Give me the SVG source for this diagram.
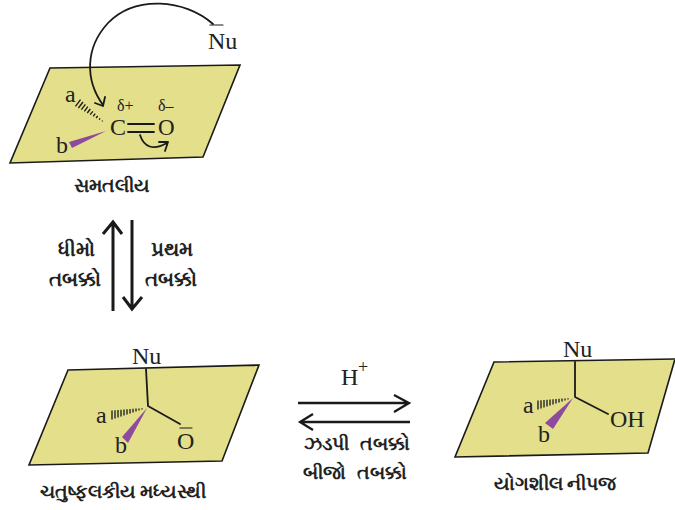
<svg xmlns="http://www.w3.org/2000/svg" width="675" height="510" viewBox="0 0 675 510">
<style>
.plane{fill:#e3df8b;stroke:#1a1a1a;stroke-width:1.6}
.t{font-family:"Liberation Serif",serif;fill:#222;font-size:24px}
.o{font-size:23px}
.s{font-size:16px}
.p{font-size:18px}
.g{font-family:"Noto Sans","Liberation Sans",sans-serif;fill:#222;font-size:19px;font-weight:700;text-anchor:middle}
.w2{font-size:20px}
.l{fill:none;stroke:#1a1a1a;stroke-width:1.8;stroke-linecap:round;stroke-linejoin:round}
.b{fill:none;stroke:#1a1a1a;stroke-width:1.3}
.a{fill:none;stroke:#1a1a1a;stroke-width:3}
.a2{fill:none;stroke:#1a1a1a;stroke-width:2.3}
.w{fill:#8e4a9c}
</style>
<defs>
<path id="hash" class="b" d="M112,410.5V419.5M115,410.3V418.5M118,410.1V417.5M121,409.8V416.4M124,409.6V415.4M127,409.3V414.5M130,409.1V413.5M133,408.8V412.4M136,408.6V411.4M139,408.4V410.4M142,408.2V409.4"/>
</defs>
<rect width="675" height="510" fill="#fff"/>
<g id="node-planar">
<polygon class="plane" points="50,68 240,65 203,157 10,163"/>
<text class="t" x="65" y="102">a</text>
<text class="t" x="56" y="153">b</text>
<text class="t" x="110" y="135">C</text>
<text class="t o" x="158" y="135">O</text>
<text class="t s" x="117" y="111">δ+</text>
<text class="t s" x="158" y="111">δ–</text>
<path class="b" d="M80.5,99.6L75.5,106.4M83,102L78.4,108M85.4,104.3L81.4,109.7M87.8,106.7L84.4,111.3M90.3,109L87.3,113M92.8,111.3L90.2,114.7M95.2,113.7L93.2,116.3M97.7,116L96.1,118M100.1,118.3L99.1,119.7M102.6,120.6L102,121.4"/>
<polygon class="w" points="69,142 72,148 106,131"/>
<path d="M128,124H154M128,132H154" class="l"/>
<text class="t" x="208" y="49">Nu</text>
<path d="M210,25H223" class="l" style="stroke-width:1.2"/>
<text class="g" x="112" y="192">સમતલીય</text>
</g>
<g id="node-step-left">
<text class="g w2" x="76" y="256">ધીમો</text>
<text class="g w2" x="75" y="286">તબક્કો</text>
</g>
<g id="node-step-right">
<text class="g w2" x="172" y="256">પ્રથમ</text>
<text class="g w2" x="171" y="286">તબક્કો</text>
</g>
<g id="node-tetrahedral">
<polygon class="plane" points="68,370 259,365 222,461 29,465"/>
<path class="l" d="M146,369L148,406L180,424"/>
<use href="#hash"/>
<polygon class="w" points="147,408 122,437 128,443"/>
<text class="t" x="132" y="364">Nu</text>
<text class="t" x="96" y="423">a</text>
<text class="t" x="115" y="453">b</text>
<text class="t" x="177" y="449">O</text>
<path d="M180,428H192" class="l" style="stroke-width:1.2"/>
<text class="g" x="123" y="498">ચતુષ્ફલકીય મધ્યસ્થી</text>
</g>
<g id="node-product">
<polygon class="plane" points="494,362 675,359 648,453 455,457"/>
<path class="l" d="M575,362V397L608,414"/>
<use href="#hash" transform="translate(426,-10)"/>
<polygon class="w" points="573,398 545,423 553,429"/>
<text class="t" x="563" y="357">Nu</text>
<text class="t" x="523" y="413">a</text>
<text class="t" x="538" y="442">b</text>
<text class="t" x="610" y="427">OH</text>
<text class="g" x="555" y="490">યોગશીલ નીપજ</text>
</g>
<g id="node-fast">
<text class="t" x="341" y="385">H</text>
<text class="t p" x="358" y="373">+</text>
<text class="g" x="357" y="450" style="word-spacing:7px">ઝડપી તબક્કો</text>
<text class="g" x="355" y="479" style="word-spacing:7px">બીજો તબક્કો</text>
</g>
<g id="connectors">
<path class="l" d="M213,24C185,-1 135,-5 108,23C85,48 85,80 103,105"/>
<path class="l" d="M105,97L103,106L95,103"/>
<path class="l" d="M140,135C144,147 153,151 167,143M159,142L168,142L165,151"/>
<path class="a" d="M113,311V222M103,234L113,222L122,234"/>
<path class="a" d="M132,220V309M123,297L132,309L142,297"/>
<path class="a2" d="M298,403H409M394,395L409,403L394,412"/>
<path class="a2" d="M410,422H300M313,414L300,422L313,430"/>
</g>
</svg>
